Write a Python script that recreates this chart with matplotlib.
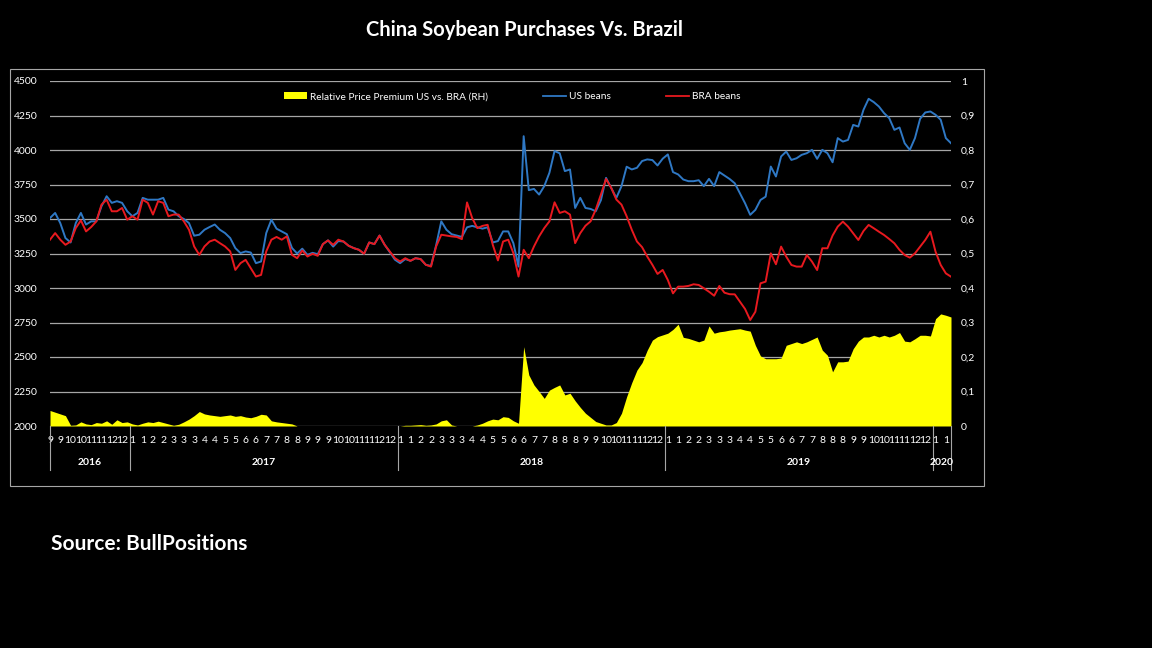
import matplotlib
matplotlib.use('Agg')
import matplotlib.pyplot as plt
import matplotlib.transforms as mtransforms
from matplotlib.patches import Patch, Rectangle
from matplotlib.lines import Line2D
import numpy as np
import pandas as pd

plt.rcParams['font.family'] = ['Lato', 'DejaVu Sans']

# ---------------- data (weekly) ----------------
start_date = '2016-09-16'

us_beans = [
    3507, 3544, 3470, 3362, 3330, 3470, 3544, 3460, 3483, 3483,
    3592, 3665, 3617, 3629, 3617, 3556, 3520, 3544, 3653, 3640,
    3640, 3640, 3653, 3568, 3556, 3520, 3500, 3470, 3379, 3386,
    3422, 3442, 3460, 3422, 3398, 3362, 3289, 3253, 3265, 3257,
    3180, 3192, 3398, 3495, 3430,
    3410, 3390, 3290, 3250, 3285, 3240, 3255, 3245, 3318, 3345,
    3300, 3340, 3337, 3306, 3289, 3277, 3248, 3330, 3318, 3380,
    3313, 3260, 3205, 3180, 3210, 3197, 3216, 3209, 3168, 3160,
    3310, 3483, 3422, 3390, 3380, 3370, 3440, 3450, 3440, 3430,
    3440, 3330, 3340, 3410,
    3410, 3325, 3155, 4100, 3709, 3718, 3677, 3738, 3835, 3993,
    3976, 3847, 3859, 3580, 3653, 3580, 3573, 3556, 3636, 3798,
    3726, 3653, 3738, 3879, 3859, 3871, 3920, 3932, 3927, 3888,
    3937, 3968, 3840, 3823, 3786, 3774, 3774, 3781, 3738, 3791,
    3738, 3840, 3815, 3790,
    3759, 3687, 3614, 3530, 3566, 3638, 3662, 3880, 3808, 3953,
    3989, 3928, 3940, 3965, 3977, 4001, 3936, 4001, 3977, 3911,
    4086, 4061, 4073, 4182, 4170, 4291, 4371, 4347, 4315, 4267,
    4231, 4146, 4163, 4049, 4001, 4086, 4226, 4272, 4279, 4255,
    4219, 4086, 4049,
]

bra_beans = [
    3350, 3398, 3350, 3313, 3337, 3434, 3490, 3410, 3442, 3483,
    3604, 3640, 3556, 3556, 3580, 3495, 3520, 3495, 3640, 3617,
    3532, 3629, 3617, 3520, 3532, 3532, 3483, 3422, 3301, 3240,
    3301, 3337, 3350, 3325, 3301, 3265, 3131, 3180, 3204, 3143,
    3083, 3095, 3265, 3350, 3370,
    3350, 3374, 3240, 3216, 3272, 3228, 3248, 3233, 3318, 3345,
    3313, 3350, 3337, 3306, 3289, 3277, 3248, 3330, 3318, 3380,
    3313, 3265, 3216, 3192, 3216, 3197, 3216, 3209, 3168, 3155,
    3301, 3386, 3380, 3374, 3370, 3354, 3620, 3507, 3434, 3450,
    3458, 3313, 3200, 3337,
    3350, 3252, 3083, 3277, 3216, 3301, 3374, 3434, 3483, 3621,
    3544, 3556, 3532, 3325, 3398, 3451, 3483, 3568, 3677, 3790,
    3726, 3641, 3604, 3520, 3422, 3337, 3296, 3228, 3168, 3102,
    3131, 3058, 2961, 3010, 3010, 3015, 3027, 3022, 2998, 2973,
    2944, 3015, 2966, 2955,
    2954, 2901, 2848, 2768, 2828, 3034, 3046, 3251, 3172, 3300,
    3227, 3167, 3155, 3155, 3239, 3191, 3130, 3288, 3288, 3380,
    3445, 3481, 3445, 3396, 3348, 3413, 3457, 3433, 3408, 3384,
    3355, 3324, 3276, 3239, 3220, 3251, 3300, 3348, 3408, 3263,
    3167, 3106, 3082,
]

premium = [
    0.045, 0.04, 0.035, 0.03, 0.002, 0.003, 0.012, 0.006, 0.004, 0.01,
    0.008, 0.015, 0.005, 0.018, 0.01, 0.012, 0.006, 0.003, 0.008, 0.012,
    0.01, 0.014, 0.01, 0.006, 0.002, 0.005, 0.012, 0.02, 0.03, 0.042,
    0.035, 0.032, 0.03, 0.028, 0.03, 0.032, 0.028, 0.03, 0.026, 0.024,
    0.028, 0.034, 0.032, 0.015, 0.012,
    0.01, 0.008, 0.006, 0.0, 0.0, 0.0, 0.0, 0.0, 0.0, 0.0,
    0.0, 0.0, 0.0, 0.0, 0.0, 0.0, 0.0, 0.0, 0.0, 0.0,
    0.0, 0.0, 0.0, 0.0, 0.002, 0.002, 0.003, 0.004, 0.002, 0.003,
    0.006, 0.015, 0.018, 0.003, 0.0, 0.0, 0.0, 0.0, 0.003, 0.008,
    0.015, 0.02, 0.018, 0.027,
    0.025, 0.015, 0.008, 0.23, 0.148, 0.119, 0.1, 0.08, 0.104, 0.112,
    0.119, 0.09, 0.095, 0.073, 0.054, 0.037, 0.025, 0.013, 0.008, 0.003,
    0.003, 0.01, 0.037, 0.085, 0.126, 0.162, 0.184, 0.22, 0.249, 0.259,
    0.264, 0.269, 0.28, 0.295, 0.257, 0.254, 0.249, 0.244, 0.249, 0.29,
    0.269, 0.273, 0.275, 0.278,
    0.28, 0.282, 0.278, 0.275, 0.234, 0.203, 0.195, 0.195, 0.195, 0.197,
    0.234, 0.239, 0.244, 0.239, 0.244, 0.251, 0.258, 0.22, 0.205, 0.157,
    0.186, 0.186, 0.188, 0.224, 0.246, 0.258, 0.258, 0.263, 0.258, 0.263,
    0.258, 0.263, 0.271, 0.246, 0.244, 0.253, 0.263, 0.263, 0.261, 0.311,
    0.325, 0.321, 0.316,
]

left_ticks = [2000, 2250, 2500, 2750, 3000, 3250, 3500, 3750, 4000, 4250, 4500]
right_ticks = [0, 0.1, 0.2, 0.3, 0.4, 0.5, 0.6, 0.7, 0.8, 0.9, 1.0]
right_tick_labels = ['0', '0,1', '0,2', '0,3', '0,4', '0,5', '0,6', '0,7', '0,8', '0,9', '1']

title = 'China Soybean Purchases Vs. Brazil'
source = 'Source: BullPositions'
legend_labels = ['Relative Price Premium US vs. BRA (RH)', 'US beans', 'BRA beans']

# ---------------- derived axis helpers ----------------
dates = pd.date_range(start_date, periods=len(us_beans), freq='7D')
x = np.arange(len(dates))
month_pos = x[::2]
month_labels = [str(d.month) for d in dates[::2]]
years = dates.year.values
bounds = [0.0] + [i - 0.5 for i in range(1, len(x)) if years[i] != years[i - 1]] + [float(x[-1])]
year_names = [str(years[0])] + [str(years[i]) for i in range(1, len(x)) if years[i] != years[i - 1]]

BLUE = '#2f78c4'
RED = '#e8191f'
YELLOW = '#ffff00'
GRID = '#a6a6a6'
TXT = 'white'

W, H = 1152, 648
fig = plt.figure(figsize=(W / 100, H / 100), dpi=100, facecolor='black')

# outer chart border
fig.patches.append(Rectangle((10 / W, 1 - 486 / H), 974 / W, 417 / H,
                             transform=fig.transFigure, fill=False,
                             edgecolor=GRID, lw=0.8))

ax = fig.add_axes([50 / W, 1 - 426 / H, 901 / W, 345 / H])
ax2 = ax.twinx()
ax.set_zorder(2)
ax2.set_zorder(1)
ax.patch.set_visible(False)
ax2.patch.set_facecolor('black')

# right axis: premium area + grid
ax2.fill_between(x, 0, premium, color=YELLOW, lw=0, zorder=2)
ax2.set_ylim(0, 1)
ax2.set_yticks(right_ticks)
ax2.set_yticklabels(right_tick_labels)
ax2.yaxis.grid(True, color=GRID, lw=0.9)
ax2.set_axisbelow(True)
ax2.tick_params(axis='y', length=0, pad=7, labelsize=7.5, labelcolor=TXT)

# left axis: price lines
ax.plot(x, us_beans, color=BLUE, lw=1.4, zorder=3)
ax.plot(x, bra_beans, color=RED, lw=1.4, zorder=4)
ax.set_ylim(2000, 4500)
ax.set_yticks(left_ticks)
ax.tick_params(axis='y', length=0, pad=9, labelsize=7.5, labelcolor=TXT)
ax.set_xlim(0, x[-1])
ax.set_xticks(month_pos)
ax.set_xticklabels(month_labels)
ax.tick_params(axis='x', length=0, pad=7, labelsize=7.5, labelcolor=TXT)

for a in (ax, ax2):
    for s in a.spines.values():
        s.set_visible(False)

# year separators and labels
trans = mtransforms.blended_transform_factory(ax.transData, ax.transAxes)
for b in bounds:
    ax.plot([b, b], [0, -0.128], transform=trans, color=GRID, lw=0.8, clip_on=False)
for k, name in enumerate(year_names):
    c = (bounds[k] + bounds[k + 1]) / 2
    ax.text(c, -0.107, name, transform=trans, ha='center', va='center',
            fontsize=7.5, color=TXT, fontweight='bold')

# legend
handles = [Patch(facecolor=YELLOW, edgecolor='none'),
           Line2D([], [], color=BLUE, lw=1.3),
           Line2D([], [], color=RED, lw=1.3)]
leg = ax.legend(handles, legend_labels, loc='center', bbox_to_anchor=(0.513, 0.954),
                ncol=3, frameon=False, fontsize=7.3, labelcolor=TXT,
                handlelength=2.2, handletextpad=0.3, columnspacing=5.5)

fig.text(524 / W, 1 - 30 / H, title, ha='center', va='center',
         fontsize=14.5, fontweight='bold', color=TXT)
fig.text(51 / W, 1 - 544 / H, source, ha='left', va='center',
         fontsize=15, fontweight='bold', color=TXT)

fig.savefig('out.png', dpi=100, facecolor='black')
